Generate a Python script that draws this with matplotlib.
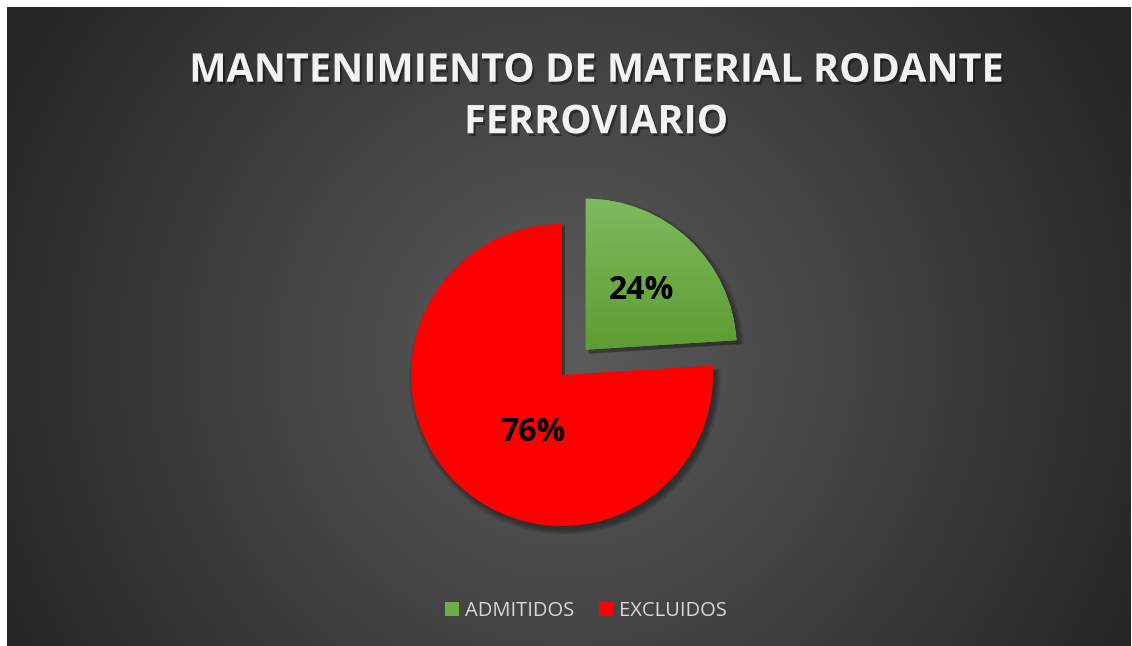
import numpy as np
import matplotlib
matplotlib.use("Agg")
import matplotlib.pyplot as plt
import matplotlib.patheffects as pe
from matplotlib.patches import Patch

# ---- data ----
categories = ["ADMITIDOS", "EXCLUIDOS"]
values = [24, 76]
pct_labels = ["24%", "76%"]
title = "MANTENIMIENTO DE MATERIAL RODANTE\nFERROVIARIO"

# ---- style ----
W, H = 1132, 646
colors = ["#70AD47", "#FF0000"]
cx, cy, R = 562, H - 375, 151
explode_frac = [0.23, 0.0]
explode = [f * R for f in explode_frac]
label_pos = [(47.0, 0.54), (-117.0, 0.43)]  # (angle deg, fraction of radius)

fig = plt.figure(figsize=(W / 100, H / 100), dpi=100, facecolor="white")

# background radial gradient panel
bg = fig.add_axes([7 / W, 0, (W - 1 - 7) / W, (H - 7) / H])
bg.set_axis_off()
yy, xx = np.mgrid[7:H, 7:W - 1]
d = np.hypot(xx - 566, yy - 355)
t = np.clip(d / 640.0, 0, 1)
c0, c1 = 0x5c / 255, 0x25 / 255
g = c0 + (c1 - c0) * t
img = np.dstack([g, g, g])
bg.imshow(img, aspect="auto", interpolation="bilinear")

ax = fig.add_axes([0, 0, 1, 1])
ax.patch.set_alpha(0)

# soft shadows
for k in range(5):
    ax.pie(values, startangle=90, counterclock=False, explode=explode,
           radius=R + 1.2 * k, center=(cx + 3, cy - 4),
           colors=["black", "black"],
           wedgeprops=dict(alpha=0.08, linewidth=0))

wedges, _ = ax.pie(values, startangle=90, counterclock=False, explode=explode,
                   radius=R, center=(cx, cy), colors=colors,
                   wedgeprops=dict(linewidth=0))

# green gradient fill
gw = wedges[0]
gx, gy = gw.center
grad = np.linspace(0, 1, 200)[:, None]
top = np.array([0x80, 0xbb, 0x60]) / 255
bot = np.array([0x5c, 0x9c, 0x31]) / 255
gimg = top[None, None, :] * (1 - grad[:, :, None]) + bot[None, None, :] * grad[:, :, None]
gimg = np.repeat(gimg, 10, axis=1)
im = ax.imshow(gimg, extent=(gx - 5, gx + R + 5, gy - 5, gy + R + 5),
               origin="upper", aspect="auto", zorder=gw.get_zorder() + 0.1)
im.set_clip_path(gw)

ax.set_xlim(0, W)
ax.set_ylim(0, H)
ax.set_aspect("auto")
ax.set_axis_off()

# percentage labels
for w, lab, (ang, fr) in zip(wedges, pct_labels, label_pos):
    wx, wy = w.center
    a = np.deg2rad(ang)
    ax.text(wx + fr * w.r * np.cos(a), wy + fr * w.r * np.sin(a), lab,
            ha="center", va="center", fontsize=23, fontweight="bold",
            family="Open Sans", color="black", zorder=10)

# title
fig.text(596 / W, 1 - 97 / H, title, ha="center", va="center",
         fontsize=28.5, fontweight="bold", family="Open Sans", color="#f2f2f2",
         linespacing=1.42,
         path_effects=[pe.SimplePatchShadow(offset=(1.5, -2), shadow_rgbFace="black", alpha=0.4),
                       pe.Normal()])

# legend
handles = [Patch(facecolor=c, edgecolor="none") for c in colors]
leg = fig.legend(handles, categories, loc="center",
                 bbox_to_anchor=(586 / W, 1 - 611 / H), ncol=2, frameon=False,
                 handlelength=0.7, handleheight=0.7, handletextpad=0.3,
                 columnspacing=1.2,
                 prop=dict(family="Open Sans", size=14.5))
for txt in leg.get_texts():
    txt.set_color("#d9d9d9")

fig.savefig("out.png", dpi=100, facecolor="white")
